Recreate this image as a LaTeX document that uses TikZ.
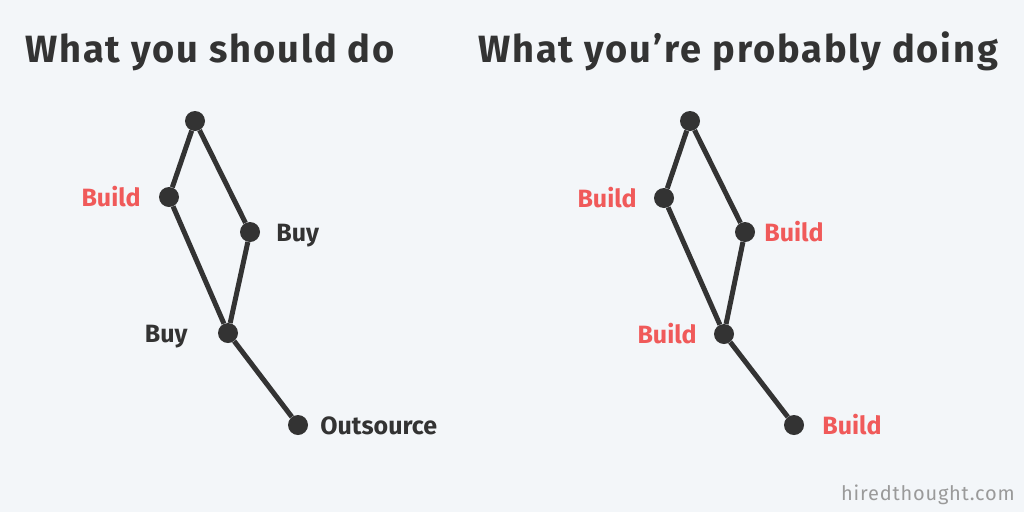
\documentclass[tikz,border=0pt]{standalone}
\usepackage{fontspec}
\setmainfont{Fira Sans}
\usetikzlibrary{positioning}
\definecolor{ink}{HTML}{333333}
\definecolor{hot}{HTML}{F05A5A}
\definecolor{paper}{HTML}{F3F6F9}
\definecolor{mark}{HTML}{9A9A9A}
\begin{document}
\begin{tikzpicture}[
              x = 1pt, y = -1pt,
              dot/.style   = {circle, fill = ink, minimum size = 20pt, inner sep = 0pt},
              edge/.style  = {draw = ink, line width = 5pt},
              lbl/.style   = {font = \bfseries\fontsize{25}{25}\selectfont, inner sep = 0pt,
                              text height = 18pt, text depth = 0pt, text = ink},
              hot/.style   = {lbl, text = hot},
              title/.style = {font = \bfseries\fontsize{38}{38}\selectfont\addfontfeatures{LetterSpace = 5},
                              text = ink, anchor = base west, inner sep = 0pt}
            ]
            \fill[paper] (0, 0) rectangle (1024, 512);
            \useasboundingbox (0, 0) rectangle (1024, 512);
            % titles
            \node[title] (tl) at (25, 62)  {What you should do};
            \node[title] (tr) at (478, 62) {What you're probably doing};
            % what you should do
            \node[dot] (l0) at (195, 121) {};
            \node[dot] (l1) at (169, 197) {};
            \node[dot] (l2) at (250, 232) {};
            \node[dot] (l3) at (228, 333) {};
            \node[dot] (l4) at (298, 425) {};
            \node[hot, left = 18pt of l1]  (l1t) {Build};
            \node[lbl, right = 16pt of l2] (l2t) {Buy};
            \node[lbl, left = 30pt of l3]  (l3t) {Buy};
            \node[lbl, right = 12pt of l4] (l4t) {Outsource};
            \draw[edge] (l0) -- (l1) -- (l3) -- (l4);
            \draw[edge] (l0) -- (l2) -- (l3);
            % what you're probably doing
            \node[dot] (r0) at (690, 121) {};
            \node[dot] (r1) at (664, 198) {};
            \node[dot] (r2) at (745, 232) {};
            \node[dot] (r3) at (724, 334) {};
            \node[dot] (r4) at (794, 425) {};
            \node[hot, left = 17pt of r1]  (r1t) {Build};
            \node[hot, right = 9pt of r2]  (r2t) {Build};
            \node[hot, left = 17pt of r3]  (r3t) {Build};
            \node[hot, right = 18pt of r4] (r4t) {Build};
            \draw[edge] (r0) -- (r1) -- (r3) -- (r4);
            \draw[edge] (r0) -- (r2) -- (r3);
            % watermark
            \node[font = \fontsize{20}{20}\selectfont\addfontfeatures{LetterSpace = 4}, text = mark,
                  anchor = base east, inner sep = 0pt]
              (site) at (1015, 500) {hiredthought.com};
          \end{tikzpicture}
\end{document}
